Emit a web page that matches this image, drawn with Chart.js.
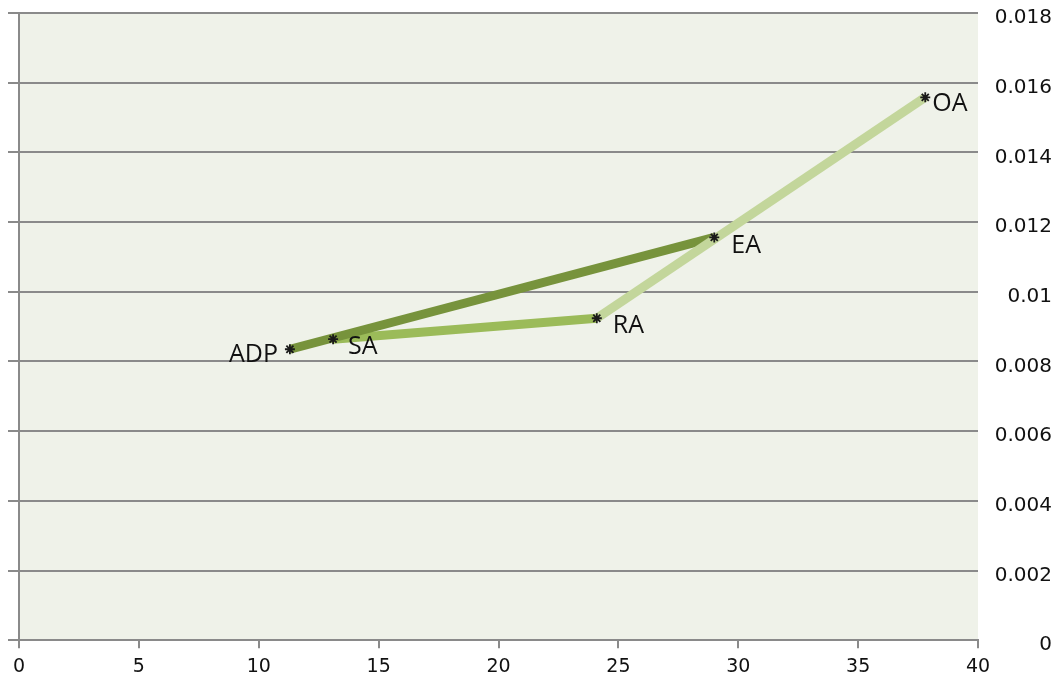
<!DOCTYPE html>
<html>
<head>
<meta charset="utf-8">
<script src="https://cdn.jsdelivr.net/npm/chart.js@4"></script>
<style>
  html, body { margin: 0; padding: 0; background: #fff; }
  canvas { display: block; }
</style>
</head>
<body>
<canvas id="chart" width="1062" height="690"></canvas>
<script>
// point names and their coordinates
const names = ['ADP', 'SA', 'RA', 'EA', 'OA'];
const xVals = [11.3, 13.1, 24.1, 29.0, 37.8];
const yVals = [0.00835, 0.00864, 0.00924, 0.01156, 0.01558];

// segments, as index pairs into the arrays above
const darkSeg = [0, 3];   // ADP -> EA
const midSeg = [1, 2];    // SA -> RA
const lightSeg = [2, 4];  // RA -> OA

const xTicks = [0, 5, 10, 15, 20, 25, 30, 35, 40];
const yTicks = [0, 0.002, 0.004, 0.006, 0.008, 0.01, 0.012, 0.014, 0.016, 0.018];

const gridGray = '#8a8a8a';

function seg(idx){ return idx.map(i => ({ x: xVals[i], y: yVals[i] })); }

const plotBg = {
    id: 'plotBg',
    beforeDraw(chart){
        const a = chart.chartArea, ctx = chart.ctx;
        ctx.save();
        ctx.fillStyle = '#eff2e9';
        ctx.fillRect(a.left, a.top, a.right - a.left, a.bottom - a.top);
        ctx.restore();
    }
};

// text labels next to the star markers
const labelOffsets = {
    ADP: { dx: -12, dy: 6, align: 'right' },
    SA: { dx: 15, dy: 8, align: 'left' },
    RA: { dx: 16, dy: 8, align: 'left' },
    EA: { dx: 17, dy: 8, align: 'left' },
    OA: { dx: 7, dy: 7, align: 'left' }
};
const pointLabels = {
    id: 'pointLabels',
    afterDatasetsDraw(chart){
        const meta = chart.getDatasetMeta(0);
        const ctx = chart.ctx;
        ctx.save();
        ctx.font = '25px "Open Sans"';
        ctx.fillStyle = '#111';
        ctx.textBaseline = 'middle';
        meta.data.forEach((p, i) => {
            const o = labelOffsets[names[i]];
            ctx.textAlign = o.align;
            ctx.fillText(names[i], p.x + o.dx, p.y + o.dy);
        });
        ctx.restore();
    }
};

const lineDs = (data, color, order) => ({
    data, showLine: true, borderColor: color, backgroundColor: color, order,
    borderWidth: 9, pointRadius: 0, borderCapStyle: 'butt', yAxisID: 'y'
});

function fixWidth(w){
    return s => { s.width = w; s.paddingTop = 0; s.paddingBottom = 0; };
}

new Chart(document.getElementById('chart').getContext('2d'), {
    type: 'scatter',
    data: {
        datasets: [
            {
                data: names.map((n, i) => ({ x: xVals[i], y: yVals[i] })),
                showLine: false, pointStyle: 'star', pointRadius: 5, order: 0,
                borderColor: '#1a1a1a', borderWidth: 1.8, yAxisID: 'y'
            },
            lineDs(seg(lightSeg), '#c3d69b', 1),
            lineDs(seg(darkSeg), '#77933c', 2),
            lineDs(seg(midSeg), '#9bbb59', 3)
        ]
    },
    options: {
        responsive: false,
        animation: false,
        layout: { padding: { left: 8, right: 10, top: 13, bottom: 5 } },
        plugins: { legend: { display: false }, tooltip: { enabled: false } },
        scales: {
            x: {
                type: 'linear', min: 0, max: 40,
                afterBuildTicks(s){ s.ticks = xTicks.map(v => ({ value: v })); },
                grid: { drawOnChartArea: false, tickLength: 8, color: gridGray, lineWidth: 2 },
                border: { color: gridGray, width: 2 },
                ticks: { padding: 7, color: '#111', font: { family: 'DejaVu Sans', size: 19 } }
            },
            yL: {
                type: 'linear', position: 'left', min: 0, max: 0.018,
                afterBuildTicks(s){ s.ticks = yTicks.map(v => ({ value: v })); },
                afterFit: fixWidth(11),
                grid: { color: gridGray, lineWidth: 2, tickLength: 11 },
                border: { color: gridGray, width: 2 },
                ticks: { display: false }
            },
            y: {
                type: 'linear', position: 'right', min: 0, max: 0.018,
                afterBuildTicks(s){ s.ticks = yTicks.map(v => ({ value: v })); },
                afterFit: fixWidth(74),
                grid: { display: false },
                border: { display: false },
                ticks: {
                    crossAlign: 'far', padding: 10, labelOffset: 5, color: '#111',
                    font: { family: 'DejaVu Sans', size: 20 },
                    callback: v => String(+v.toFixed(3))
                }
            }
        }
    },
    plugins: [plotBg, pointLabels]
});
</script>
</body>
</html>
